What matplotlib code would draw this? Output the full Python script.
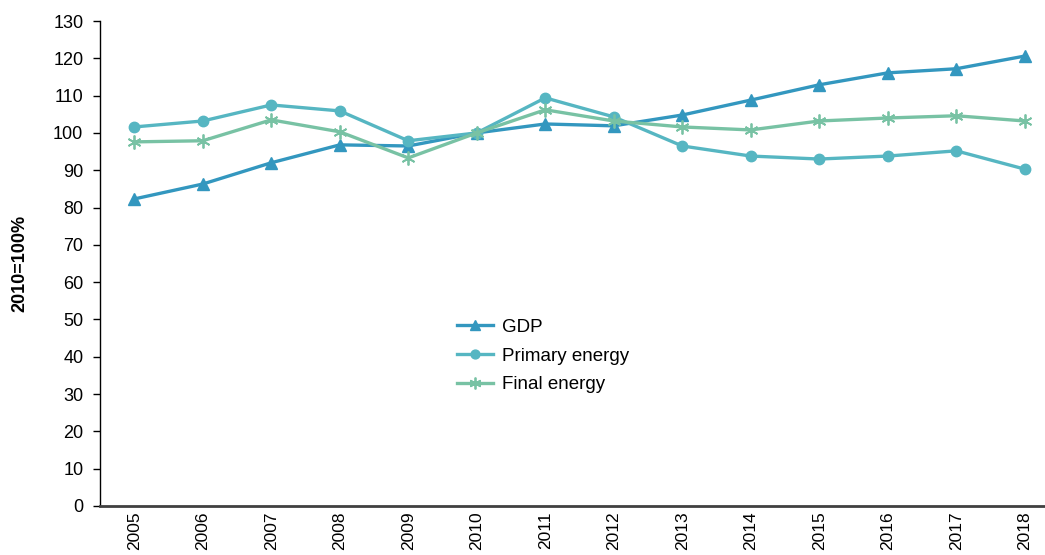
import numpy as np
import matplotlib.pyplot as plt

plt.rcParams['font.family'] = ['Liberation Sans', 'DejaVu Sans']

# Data (index, 2010 = 100%)
years = ['2005', '2006', '2007', '2008', '2009', '2010', '2011',
         '2012', '2013', '2014', '2015', '2016', '2017', '2018']
gdp = [82.3, 86.3, 92.0, 96.8, 96.5, 100.0, 102.4,
       101.9, 104.8, 108.8, 112.9, 116.1, 117.2, 120.6]
primary = [101.6, 103.2, 107.5, 105.9, 97.9, 100.0, 109.4,
           104.3, 96.5, 93.8, 93.0, 93.8, 95.2, 90.3]
final = [97.6, 97.9, 103.5, 100.3, 93.3, 100.0, 106.2,
         103.2, 101.6, 100.8, 103.2, 104.0, 104.6, 103.2]

fig = plt.figure(figsize=(10.45, 5.55), dpi=100)
ax = fig.add_axes([100 / 1045, 49 / 555, 959 / 1045, 485 / 555])

x = np.arange(len(years))
ax.plot(x, gdp, color='#3397BF', lw=2.4, marker='^', ms=8, label='GDP')
ax.plot(x, primary, color='#56B6C2', lw=2.4, marker='o', ms=7.5, label='Primary energy')
ax.plot(x, final, color='#78C2A4', lw=2.4, marker=(6, 2, 0), ms=10, mew=1.3,
        label='Final energy')

ax.set_xlim(-0.5, len(years) - 0.5)
ax.set_ylim(0, 130)
ax.set_yticks(range(0, 131, 10))
ax.set_xticks(x)
ax.set_xticklabels(years, rotation=90)
ax.tick_params(axis='x', length=0, pad=4, labelsize=12.5)
ax.tick_params(axis='y', length=5, width=1, labelsize=13, pad=7)

ax.spines['top'].set_visible(False)
ax.spines['right'].set_visible(False)
ax.spines['bottom'].set_color('#404040')
ax.spines['bottom'].set_linewidth(2)
ax.spines['left'].set_linewidth(1)

ax.set_ylabel('2010=100%', fontweight='bold', fontsize=13, labelpad=18)

ax.legend(loc='upper left', bbox_to_anchor=(0.355, 0.421), frameon=False,
          fontsize=13.5, handlelength=1.9, handletextpad=0.48, labelspacing=0.62,
          markerscale=0.85)

plt.savefig('out.png', dpi=100)
